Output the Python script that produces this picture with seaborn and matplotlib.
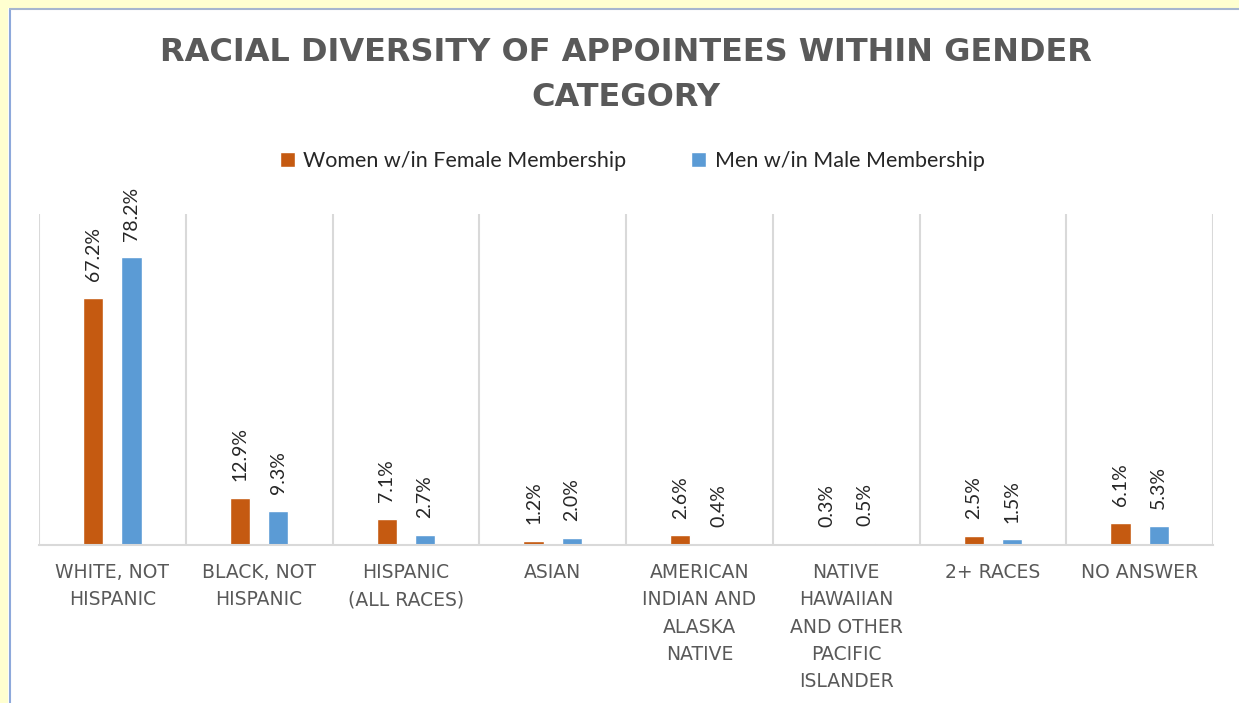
import numpy as np
import pandas as pd
import matplotlib
matplotlib.use("Agg")
import matplotlib.pyplot as plt
import seaborn as sns
from matplotlib.patches import Rectangle
from matplotlib.lines import Line2D

# Data
categories = ["WHITE, NOT\nHISPANIC", "BLACK, NOT\nHISPANIC", "HISPANIC\n(ALL RACES)",
              "ASIAN", "AMERICAN\nINDIAN AND\nALASKA\nNATIVE",
              "NATIVE\nHAWAIIAN\nAND OTHER\nPACIFIC\nISLANDER",
              "2+ RACES", "NO ANSWER"]
women = [67.2, 12.9, 7.1, 1.2, 2.6, 0.3, 2.5, 6.1]
men = [78.2, 9.3, 2.7, 2.0, 0.4, 0.5, 1.5, 5.3]
series = ["Women w/in Female Membership", "Men w/in Male Membership"]
colors = ["#C55A11", "#5B9BD5"]

df = pd.DataFrame({
    "cat": categories * 2,
    "val": women + men,
    "serie": [series[0]] * len(categories) + [series[1]] * len(categories),
})

sns.set_theme(style="white")
plt.rcParams["font.family"] = ["Lato", "DejaVu Sans"]

fig = plt.figure(figsize=(12.39, 7.03), dpi=100)
ax = fig.add_axes([39 / 1239, 1 - 545 / 703, (1213 - 39) / 1239, (545 - 214) / 703])

sns.barplot(data=df, x="cat", y="val", hue="serie", palette=colors,
            width=0.52, gap=0.47, ax=ax, saturation=1, legend=True)

ax.set_ylim(0, 90)
ax.set_xlim(-0.5, len(categories) - 0.5)
ax.set_yticks([])
ax.set_xlabel("")
ax.set_ylabel("")

# separators between categories
for xb in np.arange(-0.5, len(categories), 1.0):
    ax.axvline(xb, color="#D9D9D9", lw=1.5, zorder=0)
for s in ["top", "right", "left"]:
    ax.spines[s].set_visible(False)
ax.spines["bottom"].set_color("#D9D9D9")
ax.spines["bottom"].set_linewidth(1.5)

ax.tick_params(axis="x", length=0, pad=13)
ax.set_xticks(range(len(categories)))
ax.set_xticklabels(categories, fontsize=13.5, color="#595959", linespacing=1.55,
                   va="top", family="DejaVu Sans")

# value labels
for cont, vals in zip(ax.containers, [women, men]):
    ax.bar_label(cont, labels=[f"{v:.1f}%" for v in vals], rotation=90,
                 padding=12, fontsize=14, color="#262626")

# legend on top
handles, labels = ax.get_legend_handles_labels()
ax.get_legend().remove()
fig.legend(handles, labels, loc="center", bbox_to_anchor=(632 / 1239, 1 - 161 / 703),
           ncol=2, frameon=False, fontsize=15.5, handlelength=0.7, handleheight=0.7,
           handletextpad=0.4, columnspacing=3.0, labelcolor="#262626")

fig.text(626 / 1239, 1 - 75 / 703, "RACIAL DIVERSITY OF APPOINTEES WITHIN GENDER\nCATEGORY",
         ha="center", va="center", fontsize=23, fontweight="bold", color="#595959",
         linespacing=1.6, family="DejaVu Sans")

# outer frame like the screenshot
fig.patches.append(Rectangle((0, 0), 8 / 1239, 1, transform=fig.transFigure,
                             facecolor="#FFFFD0", edgecolor="none"))
fig.patches.append(Rectangle((0, 1 - 8 / 703), 1, 8 / 703, transform=fig.transFigure,
                             facecolor="#FFFFD0", edgecolor="none"))
fig.add_artist(Line2D([9.5 / 1239, 9.5 / 1239], [0, 1 - 9 / 703], color="#8EA9DB", lw=1.5))
fig.add_artist(Line2D([9.5 / 1239, 1], [1 - 9 / 703, 1 - 9 / 703], color="#A6B6CF", lw=1.5))

fig.savefig("out.png", dpi=100)
